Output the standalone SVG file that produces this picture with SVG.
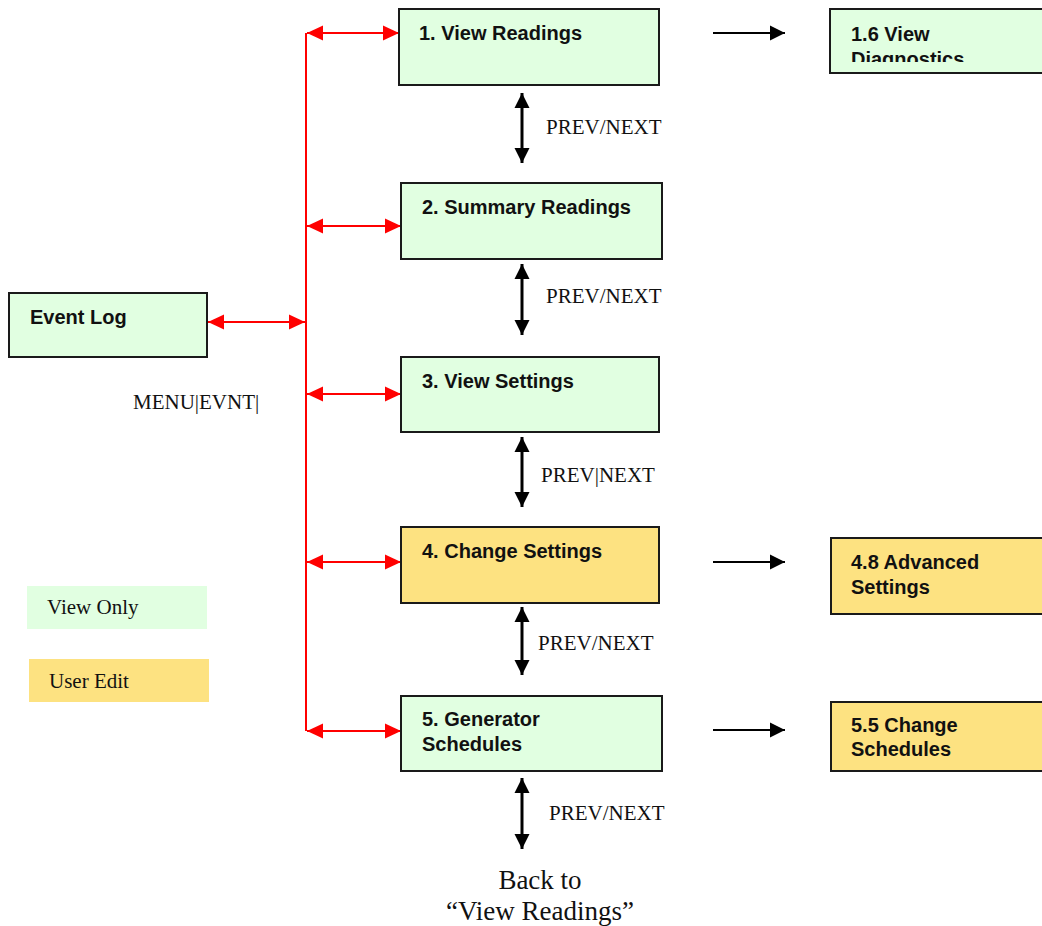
<svg xmlns="http://www.w3.org/2000/svg" width="1042" height="926" viewBox="0 0 1042 926">
<style>
.box{stroke:#1a1a1a;stroke-width:2}
.g{fill:#e1ffe1}
.y{fill:#fde281}
.bt{font-family:"Liberation Sans",Arial,sans-serif;font-weight:bold;font-size:20px;fill:#111}
.st{font-family:"Liberation Serif","Times New Roman",serif;font-size:21px;fill:#111}
.big{font-family:"Liberation Serif","Times New Roman",serif;font-size:27px;fill:#111}
.red{stroke:#ff0000;stroke-width:2;fill:none}
.blk{stroke:#000;stroke-width:3;fill:none}
.blkh{stroke:#000;stroke-width:2;fill:none}
</style>
<defs>
<marker id="rh" markerUnits="userSpaceOnUse" markerWidth="17" markerHeight="16" refX="16" refY="8" orient="auto-start-reverse">
<path d="M0,0.5 L16,8 L0,15.5 z" fill="#ff0000"/>
</marker>
<marker id="bh" markerUnits="userSpaceOnUse" markerWidth="16" markerHeight="16" refX="15" refY="8" orient="auto-start-reverse">
<path d="M0,0.5 L15,8 L0,15.5 z" fill="#000"/>
</marker>
<clipPath id="c16"><rect x="830" y="9" width="220" height="53"/></clipPath>
</defs>

<g id="connectors">
<line class="red" x1="306" y1="33" x2="306" y2="731"/>
<line class="red" x1="307" y1="33" x2="399" y2="33" marker-start="url(#rh)" marker-end="url(#rh)"/>
<line class="red" x1="307" y1="226" x2="401" y2="226" marker-start="url(#rh)" marker-end="url(#rh)"/>
<line class="red" x1="307" y1="394" x2="401" y2="394" marker-start="url(#rh)" marker-end="url(#rh)"/>
<line class="red" x1="307" y1="562" x2="401" y2="562" marker-start="url(#rh)" marker-end="url(#rh)"/>
<line class="red" x1="307" y1="731" x2="401" y2="731" marker-start="url(#rh)" marker-end="url(#rh)"/>
<line class="red" x1="208" y1="322" x2="305" y2="322" marker-start="url(#rh)" marker-end="url(#rh)"/>
<line class="blk" x1="522" y1="93" x2="522" y2="163" marker-start="url(#bh)" marker-end="url(#bh)"/>
<line class="blk" x1="522" y1="264" x2="522" y2="335" marker-start="url(#bh)" marker-end="url(#bh)"/>
<line class="blk" x1="522" y1="437" x2="522" y2="507" marker-start="url(#bh)" marker-end="url(#bh)"/>
<line class="blk" x1="522" y1="607" x2="522" y2="675" marker-start="url(#bh)" marker-end="url(#bh)"/>
<line class="blk" x1="522" y1="778" x2="522" y2="849" marker-start="url(#bh)" marker-end="url(#bh)"/>
<line class="blkh" x1="713" y1="33" x2="785" y2="33" marker-end="url(#bh)"/>
<line class="blkh" x1="713" y1="562" x2="785" y2="562" marker-end="url(#bh)"/>
<line class="blkh" x1="713" y1="730" x2="785" y2="730" marker-end="url(#bh)"/>
</g>

<g id="labels">
<text class="st" x="546" y="134">PREV/NEXT</text>
<text class="st" x="546" y="303">PREV/NEXT</text>
<text class="st" x="541" y="482">PREV|NEXT</text>
<text class="st" x="538" y="650">PREV/NEXT</text>
<text class="st" x="549" y="820">PREV/NEXT</text>
<text class="st" x="133" y="409">MENU|EVNT|</text>
<text class="big" x="540" y="889" text-anchor="middle">Back to</text>
<text class="big" x="540" y="920" text-anchor="middle">“View Readings”</text>
</g>

<g id="event-log">
<rect class="box g" x="9" y="293" width="198" height="64"/>
<text class="bt" x="30" y="324">Event Log</text>
</g>

<g id="n1">
<rect class="box g" x="399" y="9" width="260" height="76"/>
<text class="bt" x="419" y="40">1. View Readings</text>
</g>

<g id="n16">
<rect class="box g" x="830" y="9" width="220" height="64"/>
<g clip-path="url(#c16)">
<text class="bt" x="851" y="41">1.6 View</text>
<text class="bt" x="851" y="66">Diagnostics</text>
</g>
</g>

<g id="n2">
<rect class="box g" x="401" y="183" width="261" height="76"/>
<text class="bt" x="422" y="214">2. Summary Readings</text>
</g>

<g id="n3">
<rect class="box g" x="401" y="357" width="258" height="75"/>
<text class="bt" x="422" y="388">3. View Settings</text>
</g>

<g id="n4">
<rect class="box y" x="401" y="527" width="258" height="76"/>
<text class="bt" x="422" y="558">4. Change Settings</text>
</g>

<g id="n48">
<rect class="box y" x="831" y="538" width="220" height="76"/>
<text class="bt" x="851" y="569">4.8 Advanced</text>
<text class="bt" x="851" y="594">Settings</text>
</g>

<g id="n5">
<rect class="box g" x="401" y="696" width="261" height="75"/>
<text class="bt" x="422" y="726">5. Generator</text>
<text class="bt" x="422" y="751">Schedules</text>
</g>

<g id="n55">
<rect class="box y" x="831" y="702" width="220" height="69"/>
<text class="bt" x="851" y="732">5.5 Change</text>
<text class="bt" x="851" y="756">Schedules</text>
</g>

<g id="legend-view-only">
<rect class="g" x="27" y="586" width="180" height="43"/>
<text class="st" x="47" y="614">View Only</text>
</g>
<g id="legend-user-edit">
<rect class="y" x="29" y="659" width="180" height="43"/>
<text class="st" x="49" y="688">User Edit</text>
</g>
</svg>
